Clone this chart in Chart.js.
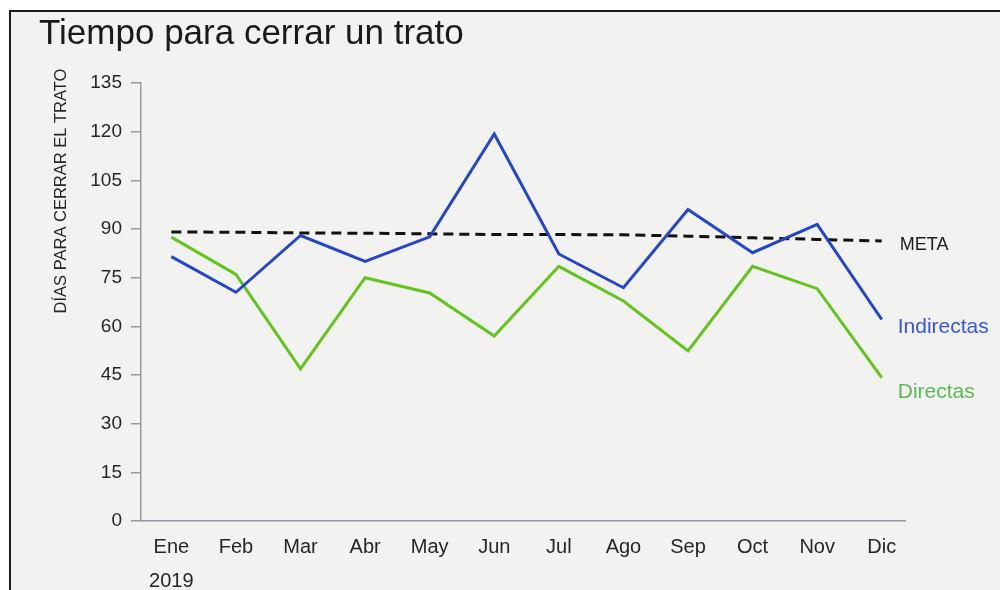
<!DOCTYPE html>
<html lang="es">
<head>
<meta charset="utf-8">
<title>Tiempo para cerrar un trato</title>
<script src="https://cdn.jsdelivr.net/npm/chart.js@4/dist/chart.umd.min.js"></script>
<style>
  html, body { margin: 0; padding: 0; background: #ffffff; }
  body { width: 1004px; height: 590px; position: relative; overflow: hidden; }
  /* photographed sheet: dark top/left edge, light grey paper */
  .sheet {
    position: absolute; left: 9px; top: 10px; width: 989px; height: 580px;
    background: #f2f2f0; border-top: 2px solid #1c1c1c; border-left: 2px solid #1c1c1c;
  }
  #chart { position: absolute; left: 0; top: 0; }
</style>
</head>
<body>
<div class="sheet"></div>
<canvas id="chart" width="1004" height="590"></canvas>
<script>
// --- Data ---
const months = ['Ene', 'Feb', 'Mar', 'Abr', 'May', 'Jun', 'Jul', 'Ago', 'Sep', 'Oct', 'Nov', 'Dic'];
const yearLabel = '2019';
const indirectas = [81.5, 70.5, 88, 80, 87.6, 119.3, 82.3, 71.9, 96, 82.7, 91.4, 62.1];
const directas = [87.5, 76, 46.9, 75, 70.3, 57, 78.5, 67.8, 52.4, 78.5, 71.6, 44.2];
const meta = [89.1, 89.0, 88.8, 88.7, 88.5, 88.3, 88.3, 88.2, 87.8, 87.3, 86.8, 86.3];
const yTicks = [0, 15, 30, 45, 60, 75, 90, 105, 120, 135];

const FONT = '"Liberation Sans", Arial, Helvetica, sans-serif';
const BLUE = '#2645cc';
const GREEN = '#63c41c';

const toPoints = (arr) => arr.map((v, i) => ({ x: i, y: v }));

// Title, rotated y title and the end-of-line labels
const annotations = {
  id: 'annotations',
  afterDraw(chart) {
    const { ctx, scales } = chart;
    const x = scales.x, y = scales.y;
    ctx.save();

    ctx.fillStyle = '#1a1a1a';
    ctx.font = '35px ' + FONT;
    ctx.textAlign = 'left';
    ctx.textBaseline = 'alphabetic';
    ctx.fillText('Tiempo para cerrar un trato', 39, 44);

    ctx.save();
    ctx.translate(61, 191);
    ctx.rotate(-Math.PI / 2);
    ctx.textAlign = 'center';
    ctx.textBaseline = 'middle';
    ctx.font = '16.5px ' + FONT;
    ctx.fillStyle = '#262626';
    ctx.fillText('DÍAS PARA CERRAR EL TRATO', 0, 0);
    ctx.restore();

    const lastX = x.getPixelForValue(months.length - 1) + 16;
    const last = months.length - 1;
    ctx.textAlign = 'left';
    ctx.textBaseline = 'middle';

    ctx.font = '18px ' + FONT;
    ctx.fillStyle = '#1b1b26';
    ctx.fillText('META', lastX + 2, y.getPixelForValue(meta[last]) + 4);

    ctx.font = '21px ' + FONT;
    ctx.fillStyle = '#3557dc';
    ctx.fillText('Indirectas', lastX, y.getPixelForValue(indirectas[last]) + 8);

    ctx.fillStyle = '#5db857';
    ctx.fillText('Directas', lastX, y.getPixelForValue(directas[last]) + 15);

    ctx.restore();
  }
};

new Chart(document.getElementById('chart'), {
  type: 'line',
  data: {
    datasets: [
      {
        label: 'Indirectas',
        data: toPoints(indirectas),
        borderColor: BLUE,
        borderWidth: 3,
        pointRadius: 0,
        tension: 0,
      },
      {
        label: 'Directas',
        data: toPoints(directas),
        borderColor: GREEN,
        borderWidth: 3,
        pointRadius: 0,
        tension: 0,
      },
      {
        label: 'META',
        data: toPoints(meta),
        borderColor: '#111111',
        borderWidth: 3,
        borderDash: [10, 6],
        pointRadius: 0,
        tension: 0,
      },
    ],
  },
  options: {
    responsive: false,
    animation: false,
    layout: { padding: { top: 83, right: 99, left: 0, bottom: 0 } },
    plugins: {
      legend: { display: false },
      title: { display: false },
      tooltip: { enabled: false },
    },
    scales: {
      x: {
        type: 'linear',
        min: -0.47,
        max: 11.36,
        afterBuildTicks: (scale) => { scale.ticks = months.map((_, i) => ({ value: i })); },
        afterFit: (scale) => { scale.height = 69; },
        grid: { display: false, drawTicks: false },
        border: { display: true, color: '#9b94a6', width: 1.5 },
        ticks: {
          padding: 9,
          color: '#262626',
          font: { family: FONT, size: 20, lineHeight: 1.7 },
          maxRotation: 0,
          autoSkip: false,
          callback: (v) => (v === 0 ? [months[0], yearLabel] : months[v]),
        },
      },
      y: {
        min: 0,
        max: 135,
        afterBuildTicks: (scale) => { scale.ticks = yTicks.map((v) => ({ value: v })); },
        afterFit: (scale) => { scale.width = 141; },
        grid: { drawOnChartArea: false, drawTicks: true, tickLength: 10, color: '#9a9a9a', lineWidth: 1.5 },
        border: { display: true, color: '#9a9a9a', width: 1.5 },
        ticks: {
          padding: 9,
          color: '#262626',
          font: { family: FONT, size: 19 },
        },
      },
    },
  },
  plugins: [annotations],
});
</script>
</body>
</html>
